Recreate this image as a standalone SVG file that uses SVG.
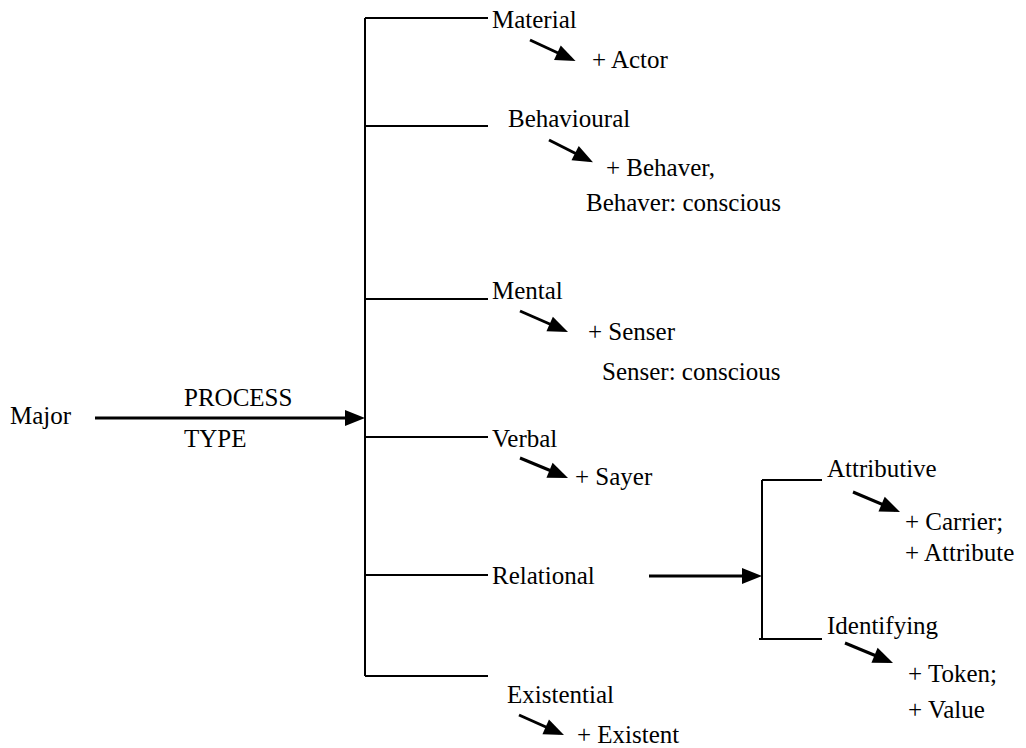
<svg xmlns="http://www.w3.org/2000/svg" width="1026" height="748" viewBox="0 0 1026 748">
<style>
.ln{stroke:#000;stroke-width:2;fill:none}
.ar{stroke:#000;stroke-width:3;fill:none;marker-end:url(#ah)}
</style>
<defs>
<marker id="ah" markerUnits="userSpaceOnUse" markerWidth="22" markerHeight="18" refX="15" refY="8" orient="auto" overflow="visible">
<path d="M0,0 L20,8 L0,16 Z" fill="#000"/>
</marker>
</defs>
<rect width="1026" height="748" fill="#fff"/>
<g id="connectors">
<path class="ln" d="M365,18 V676"/>
<path class="ln" d="M365,18 H488 M365,126 H488 M365,299 H488 M365,437 H488 M365,575 H488 M365,676 H488"/>
<line class="ar" x1="95" y1="418" x2="360" y2="418"/>
<line class="ar" x1="649" y1="576" x2="757" y2="576"/>
<path class="ln" d="M762,480 V639 M762,480 H822 M759,639 H822"/>
<line class="ar" x1="530" y1="40" x2="571" y2="59"/>
<line class="ar" x1="549" y1="140" x2="588.5" y2="160"/>
<line class="ar" x1="520" y1="311" x2="563.4" y2="330"/>
<line class="ar" x1="520" y1="458" x2="563.4" y2="476"/>
<line class="ar" x1="853" y1="492" x2="895.4" y2="510"/>
<line class="ar" x1="845" y1="643" x2="888.4" y2="661"/>
<line class="ar" x1="519" y1="715" x2="559.4" y2="733"/>
</g>
<g font-family="Liberation Serif, Times New Roman, serif" font-size="25" fill="#000">
<g id="major"><text x="10" y="424">Major</text></g>
<g id="process-type"><text x="184" y="406">PROCESS</text><text x="184" y="447">TYPE</text></g>
<g id="material"><text x="492" y="28">Material</text><text x="592" y="68">+ Actor</text></g>
<g id="behavioural"><text x="508" y="127">Behavioural</text><text x="606" y="176">+ Behaver,</text><text x="586" y="211">Behaver: conscious</text></g>
<g id="mental"><text x="492" y="299">Mental</text><text x="588" y="340">+ Senser</text><text x="602" y="380">Senser: conscious</text></g>
<g id="verbal"><text x="492" y="447">Verbal</text><text x="575" y="485">+ Sayer</text></g>
<g id="relational"><text x="492" y="584">Relational</text></g>
<g id="attributive"><text x="827" y="477">Attributive</text><text x="905" y="530">+ Carrier;</text><text x="905" y="561">+ Attribute</text></g>
<g id="identifying"><text x="827" y="634">Identifying</text><text x="908" y="682">+ Token;</text><text x="908" y="718">+ Value</text></g>
<g id="existential"><text x="507" y="703">Existential</text><text x="577" y="743">+ Existent</text></g>
</g>
</svg>
